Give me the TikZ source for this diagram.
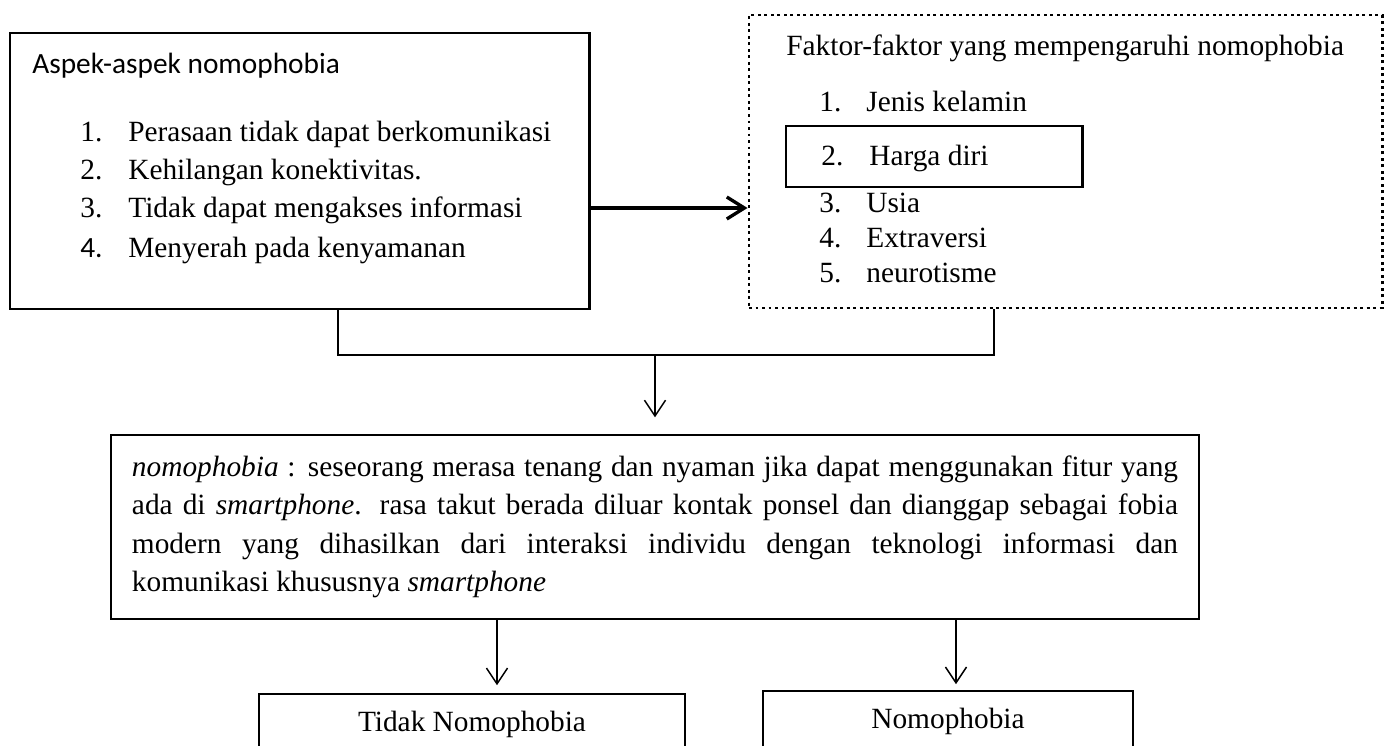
\documentclass[tikz,border=0pt]{standalone}
\usepackage{fontspec}
\setmainfont{Liberation Serif}
\newfontfamily\calibri{Carlito}
\usetikzlibrary{arrows.meta, calc}

\begin{document}
\begin{tikzpicture}[x=0.2mm, y=-0.2mm,
    txt/.style={font=\fontsize{16.7}{21.9}\selectfont, inner sep=0pt},
    sans/.style={txt, font=\calibri\fontsize{16.7}{21.9}\selectfont},
    frame/.style={draw, line width=1.7pt, inner sep=0pt},
    link/.style={line width=0.85pt},
    down/.style={link, -{Straight Barb[length=9pt, width=12pt]}}]
  \useasboundingbox (0,0) rectangle (1388,746);
  \clip (0,0) rectangle (1388,746);

  % Aspects box
  \node[frame, minimum width=115.8mm, minimum height=55.2mm] (aspek) at (299.5,171) {};
  \node[sans, anchor=base west] (aspekhead) at (32,74) {Aspek-aspek nomophobia};
  \node[txt, anchor=base west] (a1n) at (80,142) {1.};
  \node[txt, anchor=base west] (a1) at (128,142) {Perasaan tidak dapat berkomunikasi};
  \node[txt, anchor=base west] (a2n) at (80,180) {2.};
  \node[txt, anchor=base west] (a2) at (128,180) {Kehilangan konektivitas.};
  \node[txt, anchor=base west] (a3n) at (80,218) {3.};
  \node[txt, anchor=base west] (a3) at (128,218) {Tidak dapat mengakses informasi};
  \node[sans, anchor=base west] (a4n) at (80,258) {4.};
  \node[txt, anchor=base west] (a4) at (128,258) {Menyerah pada kenyamanan};

  % Factors box (dotted)
  \node[draw, line width=1.7pt, dash pattern=on 1.7pt off 2pt,
        minimum width=126.6mm, minimum height=58.6mm] (faktor) at (1065.5,161.5) {};
  \node[txt, anchor=base west] (faktorhead) at (786,56) {Faktor-faktor yang mempengaruhi nomophobia};
  \node[frame, minimum width=59.2mm, minimum height=12.2mm] (harga) at (934,156.5) {};
  \node[txt, anchor=base west] (f1n) at (819,112) {1.};
  \node[txt, anchor=base west] (f1) at (866,112) {Jenis kelamin};
  \node[txt, anchor=base west] (f2n) at (821,166) {2.};
  \node[txt, anchor=base west] (f2) at (869,166) {Harga diri};
  \node[txt, anchor=base west] (f3n) at (819,213) {3.};
  \node[txt, anchor=base west] (f3) at (866,213) {Usia};
  \node[txt, anchor=base west] (f4n) at (819,248) {4.};
  \node[txt, anchor=base west] (f4) at (866,248) {Extraversi};
  \node[txt, anchor=base west] (f5n) at (819,283) {5.};
  \node[txt, anchor=base west] (f5) at (866,283) {neurotisme};

  % Definition box
  \node[draw, line width=1.1pt, txt, text width=209.2mm, inner xsep=4.2mm,
        minimum height=36.8mm, align=justify] (definisi) at (655,527)
    {\tolerance=9999\hyphenpenalty=10000
     \textit{nomophobia} : seseorang merasa tenang dan nyaman jika dapat menggunakan fitur yang\linebreak
     ada di \textit{smartphone}. rasa takut berada diluar kontak ponsel dan dianggap sebagai fobia\linebreak
     modern yang dihasilkan dari interaksi individu dengan teknologi informasi dan\linebreak
     komunikasi khususnya \textit{smartphone}};

  % Outcome boxes (cut by the page edge)
  \node[draw, line width=1pt, txt, minimum width=85.2mm, minimum height=12mm] (tidak) at (472,724) {Tidak Nomophobia};
  \node[draw, line width=1pt, txt, minimum width=74mm, minimum height=12mm] (nomo) at (948,721) {Nomophobia};

  % Connectors
  \coordinate (dropA) at (338,355);
  \coordinate (dropB) at (994,355);
  \coordinate (arrowrow) at (0,208);
  \draw[line width=1.9pt, -{Straight Barb[length=10pt, width=12.5pt]}]
    (aspek.east |- arrowrow) -- (faktor.west |- arrowrow);
  \draw[link] (aspek.south -| dropA) -- (dropA) -- (dropB) -- (faktor.south -| dropB);
  \draw[down, shorten >=9.5pt] (dropA -| definisi.north) -- (definisi.north);

  \coordinate (tidakin) at ($(tidak.north)+(25,0)$);
  \coordinate (nomoin) at ($(nomo.north)+(8,0)$);
  \draw[down, shorten >=4.5pt] (definisi.south -| tidakin) -- (tidakin);
  \draw[down, shorten >=3.4pt] (definisi.south -| nomoin) -- (nomoin);
\end{tikzpicture}
\end{document}
